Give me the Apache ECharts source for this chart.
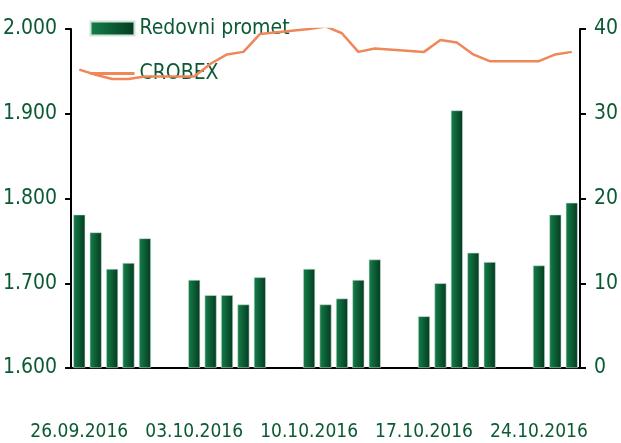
<!DOCTYPE html>
<html>
<head>
<meta charset="utf-8">
<script src="https://cdn.jsdelivr.net/npm/echarts@6/dist/echarts.min.js"></script>
<style>html,body{margin:0;padding:0;background:#fff}#c{width:621px;height:443px}</style>
</head>
<body>
<div id="c"></div>
<script>
var categories = ['26.09.2016','27.09.2016','28.09.2016','29.09.2016','30.09.2016','01.10.2016','02.10.2016',
  '03.10.2016','04.10.2016','05.10.2016','06.10.2016','07.10.2016','08.10.2016','09.10.2016',
  '10.10.2016','11.10.2016','12.10.2016','13.10.2016','14.10.2016','15.10.2016','16.10.2016',
  '17.10.2016','18.10.2016','19.10.2016','20.10.2016','21.10.2016','22.10.2016','23.10.2016',
  '24.10.2016','25.10.2016','26.10.2016'];
var redovniPromet = [18.1,16.0,11.7,12.4,15.3,null,null,
  10.4,8.6,8.6,7.5,10.7,null,null,
  11.7,7.5,8.2,10.4,12.8,null,null,
  6.1,10.0,30.4,13.6,12.5,null,null,
  12.1,18.1,19.5];
var crobex = [1952,1946,1941,1941,1944,null,null,
  1944,1959,1970,1973,1994,null,null,
  2000,2003,1995,1973,1977,null,null,
  1973,1987,1984,1970,1962,null,null,
  1962,1970,1973];
var leftTicks = [1600,1700,1800,1900,2000];
var rightTicks = [0,10,20,30,40];

var FONT = '"DejaVu Sans Condensed","Liberation Sans",sans-serif';
var GREEN = '#0b5a33';
var chart = echarts.init(document.getElementById('c'));
chart.setOption({
  animation: false,
  textStyle: {fontFamily: FONT},
  grid: {left: 67, right: 34, top: 29, bottom: 75},
  legend: {
    orient: 'vertical', left: 84, top: 13, itemGap: 24,
    itemWidth: 44, itemHeight: 14,
    textStyle: {fontFamily: FONT, fontSize: 21, color: GREEN},
    data: [{name: 'Redovni promet', icon: 'rect'},
           {name: 'CROBEX', itemStyle: {opacity: 0}, lineStyle: {color: '#ef8759', width: 3}}]
  },
  xAxis: {
    type: 'category', data: categories, boundaryGap: true,
    axisLine: {lineStyle: {color: '#000', width: 2}},
    axisTick: {interval: 6, length: 7, lineStyle: {color: '#000', width: 2}},
    axisLabel: {interval: 6, margin: 55, fontSize: 19, color: GREEN, fontFamily: FONT}
  },
  yAxis: [{
    type: 'value', min: leftTicks[0], max: leftTicks[leftTicks.length-1], interval: 100,
    axisLine: {show: true, lineStyle: {color: '#000', width: 2}},
    axisTick: {show: true, length: 6, lineStyle: {color: '#000', width: 2}},
    splitLine: {show: false},
    axisLabel: {fontSize: 21, color: GREEN, margin: 14, fontFamily: FONT,
      formatter: function (v) { return Math.floor(v/1000) + '.' + String(v % 1000).padStart(3,'0'); }}
  }, {
    type: 'value', min: rightTicks[0], max: rightTicks[rightTicks.length-1], interval: 10,
    position: 'right',
    axisLine: {show: true, lineStyle: {color: '#000', width: 2}},
    axisTick: {show: true, length: 6, lineStyle: {color: '#000', width: 2}},
    splitLine: {show: false},
    axisLabel: {fontSize: 21, color: GREEN, margin: 14, fontFamily: FONT}
  }],
  series: [{
    name: 'Redovni promet', type: 'bar', yAxisIndex: 1, data: redovniPromet,
    barWidth: 12,
    itemStyle: {
      color: new echarts.graphic.LinearGradient(0, 0, 1, 0, [
        {offset: 0, color: '#177e4c'}, {offset: 0.4, color: '#0d6439'}, {offset: 1, color: '#053a20'}
      ]),
      borderColor: '#cfe3d7', borderWidth: 0.6
    }
  }, {
    name: 'CROBEX', type: 'line', yAxisIndex: 0, data: crobex,
    connectNulls: true, symbol: 'none', z: 5,
    lineStyle: {color: '#ef8759', width: 2.5},
    itemStyle: {color: '#ef8759'}
  }]
});
</script>
</body>
</html>
